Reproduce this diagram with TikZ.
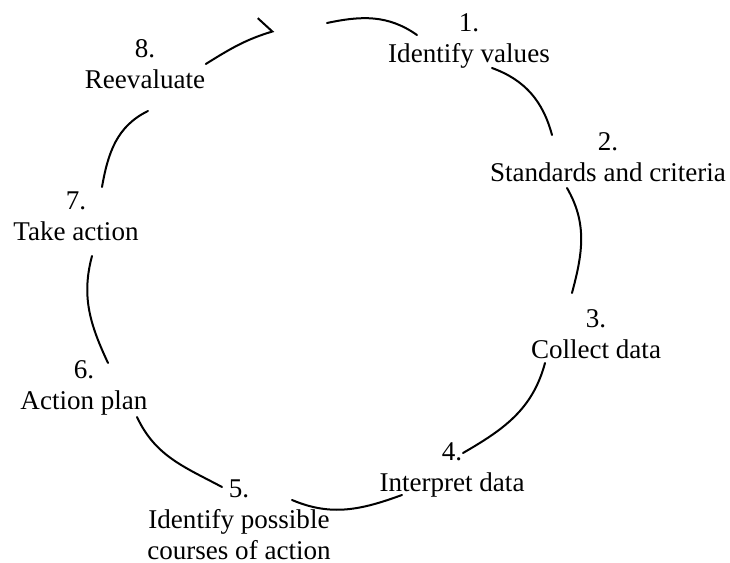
\documentclass[tikz,border=0pt]{standalone}
\usepackage{fontspec}
\setmainfont{Liberation Serif}
\usetikzlibrary{arrows.meta}

\begin{document}
\begin{tikzpicture}[x=1mm, y=1mm,
		stage/.style={align=center, inner sep=0pt, font=\fontsize{7.7}{8.8}\selectfont},
		link/.style={line width=0.2mm, line cap=round}]
			\useasboundingbox (0,0) rectangle (73,56.3);

			\node[stage] (values) at (46.9,52.2) {1.\\Identify values};
			\node[stage] (standards) at (60.8,40.6) {2.\\Standards and criteria};
			\node[stage] (collect) at (59.6,22.9) {3.\\Collect data};
			\node[stage] (interpret) at (45.2,9.3) {4.\\Interpret data};
			\node[stage] (courses) at (23.9,4.3) {5.\\Identify possible\\courses of action};
			\node[stage] (plan) at (8.4,17.5) {6.\\Action plan};
			\node[stage] (takeaction) at (7.6,34.7) {7.\\Take action};
			\node[stage] (reevaluate) at (14.5,49.9) {8.\\Reevaluate};

			% loose ends of the hand-drawn links
			\coordinate (tip) at (27.4,53.2);
			\coordinate (gap) at (32.7,54.0);
			\coordinate (vin) at (41.7,52.8);
			\coordinate (vout) at (49.2,49.5);
			\coordinate (sin) at (55.2,42.8);
			\coordinate (sout) at (56.7,37.5);
			\coordinate (cin) at (57.2,27.0);
			\coordinate (cout) at (54.5,20.0);
			\coordinate (iin) at (46.3,11.0);
			\coordinate (iout) at (40.2,6.8);
			\coordinate (pin) at (29.2,6.3);
			\coordinate (pout) at (22.2,7.6);
			\coordinate (ain) at (13.7,14.6);
			\coordinate (aout) at (10.8,20.0);
			\coordinate (tin) at (9.2,30.7);
			\coordinate (tout) at (10.2,37.6);
			\coordinate (rin) at (14.8,45.2);

			\draw[link, -{Straight Barb[left, length=1mm, width=3.4mm]}] (reevaluate.east) to[out=32, in=-163] (tip);
			\draw[link] (gap) to[out=12, in=145] (vin);
			\draw[link] (vout) to[out=-20, in=105] (sin);
			\draw[link] (sout) to[out=-60, in=75] (cin);
			\draw[link] (cout) to[out=-105, in=30] (iin);
			\draw[link] (iout) to[out=200, in=-23] (pin);
			\draw[link] (ain) to[out=-65, in=152] (pout);
			\draw[link] (tin) to[out=-105, in=115] (aout);
			\draw[link] (tout) to[out=80, in=-154] (rin);
		\end{tikzpicture}
\end{document}
